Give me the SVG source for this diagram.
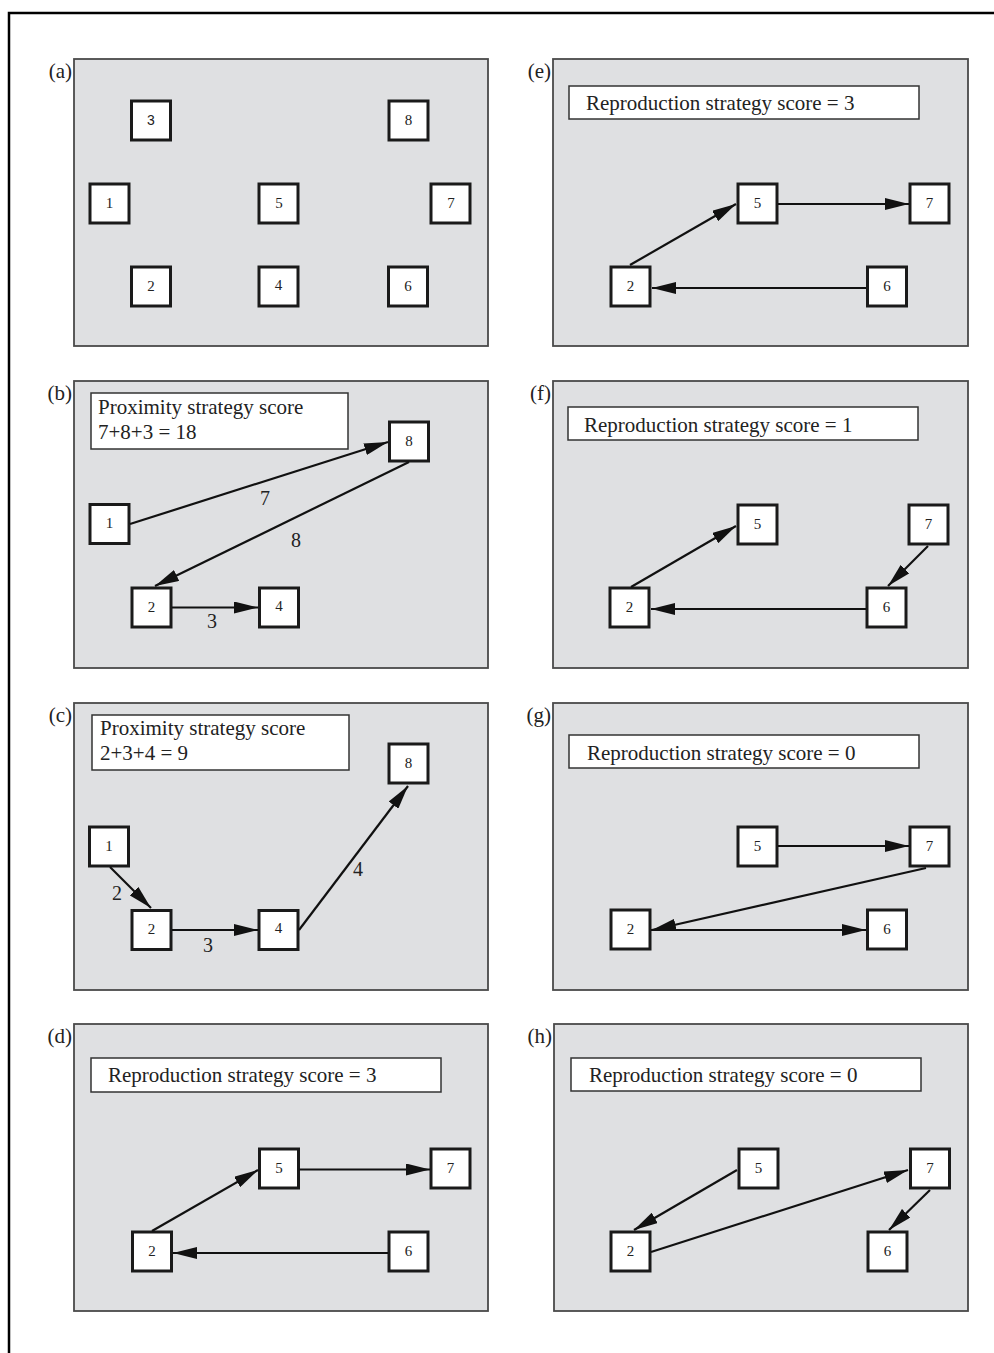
<svg xmlns="http://www.w3.org/2000/svg" width="994" height="1353" viewBox="0 0 994 1353">
<style>
.frame{stroke:#000;stroke-width:2.5;fill:none}
.panel{fill:#dfe0e2;stroke:#4a4a4a;stroke-width:1.8}
.tbox{fill:#fff;stroke:#333;stroke-width:1.5}
.node rect{fill:#fff;stroke:#1a1a1a;stroke-width:3}
.node text{font-family:"Liberation Serif",serif;font-size:15px;text-anchor:middle;fill:#222}
.plabel{font-family:"Liberation Serif",serif;font-size:21px;text-anchor:end;fill:#222}
.ttext{font-family:"Liberation Serif",serif;font-size:21px;fill:#222}
.elabel{font-family:"Liberation Serif",serif;font-size:20px;text-anchor:middle;fill:#222}
.edges line{stroke:#111;stroke-width:2.2;marker-end:url(#ah)}
</style>
<defs>
<marker id="ah" viewBox="0 0 24 12" markerWidth="24" markerHeight="12" refX="24" refY="6" orient="auto" markerUnits="userSpaceOnUse">
<path d="M0,0 L24,6 L0,12 Z" fill="#111"/>
</marker>
</defs>
<rect width="994" height="1353" fill="#fff"/>
<path class="frame" d="M9,1353 L9,13 L994,13"/>

<!-- Panel (a) -->
<g id="panel-a">
<rect class="panel" x="74" y="59" width="414" height="287"/>
<text class="plabel" x="72" y="78">(a)</text>
<g id="a-n3" class="node"><rect x="131.5" y="101" width="39" height="39"/><text x="151" y="125" style="font-family:'Liberation Sans',sans-serif;font-size:14px">3</text></g>
<g id="a-n8" class="node"><rect x="389" y="101" width="39" height="39"/><text x="408.5" y="125">8</text></g>
<g id="a-n1" class="node"><rect x="90" y="184" width="39" height="39"/><text x="109.5" y="208">1</text></g>
<g id="a-n5" class="node"><rect x="259" y="184" width="39" height="39"/><text x="279" y="208">5</text></g>
<g id="a-n7" class="node"><rect x="431" y="184" width="39" height="39"/><text x="451" y="208">7</text></g>
<g id="a-n2" class="node"><rect x="131.5" y="267" width="39" height="39"/><text x="151" y="291">2</text></g>
<g id="a-n4" class="node"><rect x="259" y="267" width="39" height="39"/><text x="278.5" y="290">4</text></g>
<g id="a-n6" class="node"><rect x="388.5" y="267" width="39" height="39"/><text x="408" y="291">6</text></g>
</g>

<!-- Panel (b) -->
<g id="panel-b">
<rect class="panel" x="74" y="381" width="414" height="287"/>
<text class="plabel" x="72" y="400">(b)</text>
<rect class="tbox" x="91" y="393" width="257" height="56"/>
<text class="ttext" x="98" y="414">Proximity strategy score</text>
<text class="ttext" x="98" y="439">7+8+3 = 18</text>
<g id="b-n8" class="node"><rect x="389.5" y="422" width="39" height="39"/><text x="409" y="446">8</text></g>
<g id="b-n1" class="node"><rect x="90" y="504.5" width="39" height="39"/><text x="109.5" y="528">1</text></g>
<g id="b-n2" class="node"><rect x="132" y="588" width="39" height="39"/><text x="151.5" y="612">2</text></g>
<g id="b-n4" class="node"><rect x="259.5" y="588" width="39" height="39"/><text x="279" y="611">4</text></g>
<g class="edges">
<line x1="130" y1="524" x2="388" y2="442"/>
<line x1="409" y1="462" x2="155" y2="586"/>
<line x1="172" y1="607.5" x2="258" y2="607.5"/>
</g>
<text class="elabel" x="265" y="505">7</text>
<text class="elabel" x="296" y="547">8</text>
<text class="elabel" x="212" y="628">3</text>
</g>

<!-- Panel (c) -->
<g id="panel-c">
<rect class="panel" x="74" y="703" width="414" height="287"/>
<text class="plabel" x="72" y="722">(c)</text>
<rect class="tbox" x="92" y="715" width="257" height="55"/>
<text class="ttext" x="100" y="735">Proximity strategy score</text>
<text class="ttext" x="100" y="760">2+3+4 = 9</text>
<g id="c-n8" class="node"><rect x="389" y="744" width="39" height="39"/><text x="408.5" y="768">8</text></g>
<g id="c-n1" class="node"><rect x="89.5" y="827" width="39" height="39"/><text x="109" y="851">1</text></g>
<g id="c-n2" class="node"><rect x="132" y="910.5" width="39" height="39"/><text x="151.5" y="934">2</text></g>
<g id="c-n4" class="node"><rect x="259" y="910.5" width="39" height="39"/><text x="278.5" y="933">4</text></g>
<g class="edges">
<line x1="110" y1="867" x2="151" y2="908"/>
<line x1="172" y1="930" x2="258" y2="930"/>
<line x1="299" y1="930" x2="408" y2="786"/>
</g>
<text class="elabel" x="117" y="900">2</text>
<text class="elabel" x="208" y="952">3</text>
<text class="elabel" x="358" y="876">4</text>
</g>

<!-- Panel (d) -->
<g id="panel-d">
<rect class="panel" x="74" y="1024" width="414" height="287"/>
<text class="plabel" x="72" y="1043">(d)</text>
<rect class="tbox" x="91" y="1058" width="350" height="34"/>
<text class="ttext" x="108" y="1082">Reproduction strategy score = 3</text>
<g id="d-n5" class="node"><rect x="259.5" y="1149" width="39" height="39"/><text x="279" y="1173">5</text></g>
<g id="d-n7" class="node"><rect x="431" y="1149" width="39" height="39"/><text x="450.5" y="1173">7</text></g>
<g id="d-n2" class="node"><rect x="132.5" y="1232" width="39" height="39"/><text x="152" y="1256">2</text></g>
<g id="d-n6" class="node"><rect x="389" y="1232" width="39" height="39"/><text x="408.5" y="1256">6</text></g>
<g class="edges">
<line x1="152" y1="1231" x2="258" y2="1170"/>
<line x1="299" y1="1169.5" x2="430" y2="1169.5"/>
<line x1="388" y1="1253" x2="173" y2="1253"/>
</g>
</g>

<!-- Panel (e) -->
<g id="panel-e">
<rect class="panel" x="553" y="59" width="415" height="287"/>
<text class="plabel" x="551" y="78">(e)</text>
<rect class="tbox" x="569" y="86" width="350" height="33"/>
<text class="ttext" x="586" y="110">Reproduction strategy score = 3</text>
<g id="e-n5" class="node"><rect x="738" y="184" width="39" height="39"/><text x="757.5" y="208">5</text></g>
<g id="e-n7" class="node"><rect x="910" y="184" width="39" height="39"/><text x="929.5" y="208">7</text></g>
<g id="e-n2" class="node"><rect x="611" y="267" width="39" height="39"/><text x="630.5" y="291">2</text></g>
<g id="e-n6" class="node"><rect x="867.5" y="267" width="39" height="39"/><text x="887" y="291">6</text></g>
<g class="edges">
<line x1="630" y1="265" x2="736" y2="204"/>
<line x1="778" y1="204" x2="909" y2="204"/>
<line x1="866" y1="288" x2="652" y2="288"/>
</g>
</g>

<!-- Panel (f) -->
<g id="panel-f">
<rect class="panel" x="553" y="381" width="415" height="287"/>
<text class="plabel" x="551" y="400">(f)</text>
<rect class="tbox" x="568" y="407" width="350" height="33"/>
<text class="ttext" x="584" y="432">Reproduction strategy score = 1</text>
<g id="f-n5" class="node"><rect x="738" y="505" width="39" height="39"/><text x="757.5" y="529">5</text></g>
<g id="f-n7" class="node"><rect x="909" y="505" width="39" height="39"/><text x="928.5" y="529">7</text></g>
<g id="f-n2" class="node"><rect x="610" y="588" width="39" height="39"/><text x="629.5" y="612">2</text></g>
<g id="f-n6" class="node"><rect x="867" y="588" width="39" height="39"/><text x="886.5" y="612">6</text></g>
<g class="edges">
<line x1="631" y1="587" x2="736" y2="526"/>
<line x1="928" y1="546" x2="888" y2="586"/>
<line x1="866" y1="609" x2="651" y2="609"/>
</g>
</g>

<!-- Panel (g) -->
<g id="panel-g">
<rect class="panel" x="553" y="703" width="415" height="287"/>
<text class="plabel" x="551" y="722">(g)</text>
<rect class="tbox" x="569" y="735" width="350" height="33"/>
<text class="ttext" x="587" y="760">Reproduction strategy score = 0</text>
<g id="g-n5" class="node"><rect x="738" y="827" width="39" height="39"/><text x="757.5" y="851">5</text></g>
<g id="g-n7" class="node"><rect x="910" y="827" width="39" height="39"/><text x="929.5" y="851">7</text></g>
<g id="g-n2" class="node"><rect x="611" y="910" width="39" height="39"/><text x="630.5" y="934">2</text></g>
<g id="g-n6" class="node"><rect x="867.5" y="910" width="39" height="39"/><text x="887" y="934">6</text></g>
<g class="edges">
<line x1="778" y1="846" x2="909" y2="846"/>
<line x1="926" y1="868" x2="652" y2="930"/>
<line x1="651" y1="930" x2="866" y2="930"/>
</g>
</g>

<!-- Panel (h) -->
<g id="panel-h">
<rect class="panel" x="554" y="1024" width="414" height="287"/>
<text class="plabel" x="552" y="1043">(h)</text>
<rect class="tbox" x="571" y="1058" width="350" height="33"/>
<text class="ttext" x="589" y="1082">Reproduction strategy score = 0</text>
<g id="h-n5" class="node"><rect x="739" y="1149" width="39" height="39"/><text x="758.5" y="1173">5</text></g>
<g id="h-n7" class="node"><rect x="910.5" y="1149" width="39" height="39"/><text x="930" y="1173">7</text></g>
<g id="h-n2" class="node"><rect x="611" y="1232" width="39" height="39"/><text x="630.5" y="1256">2</text></g>
<g id="h-n6" class="node"><rect x="868" y="1232" width="39" height="39"/><text x="887.5" y="1256">6</text></g>
<g class="edges">
<line x1="737" y1="1170" x2="634" y2="1230"/>
<line x1="651" y1="1252" x2="908" y2="1170"/>
<line x1="930" y1="1190" x2="889" y2="1230"/>
</g>
</g>
</svg>
